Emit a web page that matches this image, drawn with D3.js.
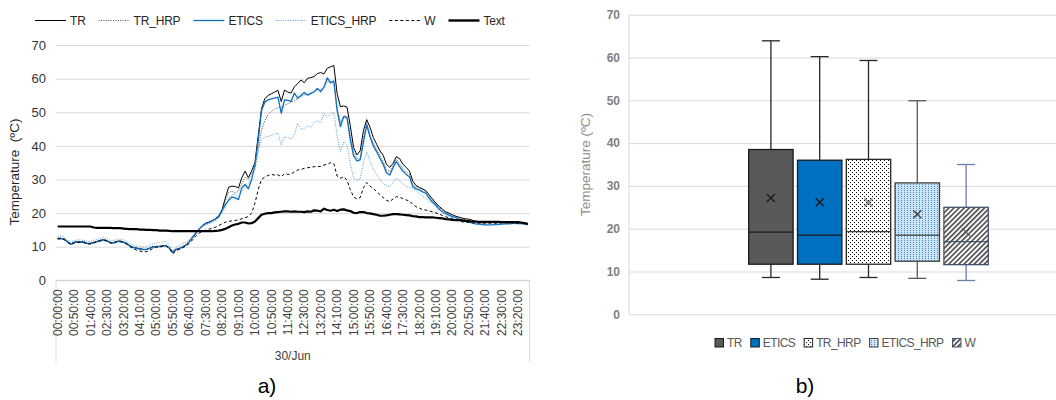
<!DOCTYPE html>
<html>
<head>
<meta charset="utf-8">
<script src="https://cdn.jsdelivr.net/npm/d3@7"></script>
<style>
  body { margin: 0; background: #fff; }
  svg { display: block; font-family: "Liberation Sans", Arial, sans-serif; }
</style>
</head>
<body>
<svg id="chart" width="1056" height="400"></svg>
<script>
// ---- time axis: one reading every 10 minutes over the day ----
const times = d3.range(144).map(i => {
  const m = i * 10;
  return String(Math.floor(m / 60)).padStart(2, "0") + ":" + String(m % 60).padStart(2, "0") + ":00";
});
const timeLabelStep = 5;
const dayLabel = "30/Jun";
const yTicks = [0, 10, 20, 30, 40, 50, 60, 70];

// ---- surface temperatures (ºC) ----
const TR = [
  12.5,12.5,12.3,11.5,10.8,11.3,11.5,11.5,11.4,11.0,11.0,11.3,11.6,11.9,12.1,11.8,11.3,11.2,11.6,11.7,
  11.4,11.0,10.3,9.8,9.6,9.4,9.2,9.2,9.6,10.0,10.1,10.1,10.3,10.4,9.6,8.6,9.2,9.5,10.0,10.5,11.5,
  12.8,14.0,15.3,16.3,17.0,17.3,17.8,18.2,18.8,21.0,
  24.5,27.7,28.0,27.9,27.5,30.5,32.5,30.5,32.5,35.0,
  43.0,51.0,54.0,55.0,55.5,56.0,56.5,53.2,56.6,56.0,
  55.7,57.6,58.5,59.6,58.8,60.1,60.3,60.6,61.5,61.8,
  61.4,63.1,63.5,63.9,55.5,51.6,51.9,51.5,46.0,39.5,
  37.3,38.5,44.5,47.8,45.5,42.5,40.5,38.5,37.2,34.5,
  33.6,34.8,36.8,36.2,34.5,33.6,32.5,29.5,28.2,27.6,
  27.2,26.6,25.4,24.2,23.0,22.0,21.2,20.4,20.0,19.5,
  19.1,18.8,18.5,18.3,18.2,17.9,17.6,17.4,17.3,17.3,
  17.4,17.3,17.4,17.5,17.5,17.4,17.5,17.4,17.3,17.2,
  17.1,16.9,16.7
];
const TR_HRP = [
  12.5,12.5,12.3,11.5,10.8,11.3,11.5,11.5,11.4,11.0,11.0,11.3,11.6,11.9,12.1,11.8,11.3,11.2,11.6,11.7,
  11.4,11.0,10.3,9.8,9.6,9.4,9.2,9.2,9.6,10.0,10.1,10.1,10.3,10.4,9.6,8.6,9.2,9.5,10.0,10.5,11.5,
  12.5,13.8,15.0,16.0,16.8,17.2,17.6,18.0,18.6,20.5,
  23.5,26.2,26.5,26.0,26.5,28.7,30.7,30.0,31.7,33.2,
  38.6,44.6,47.5,49.3,50.2,51.0,51.3,51.5,52.0,52.5,
  53.0,53.5,54.0,54.6,55.2,55.2,55.6,56.0,56.8,56.5,
  57.3,59.3,58.6,59.0,51.0,47.0,49.0,48.8,43.0,38.0,
  36.3,36.0,42.8,46.8,43.3,40.7,39.0,37.0,35.4,33.0,
  32.3,34.3,36.0,34.7,33.3,32.3,31.5,28.5,27.8,27.4,
  26.9,26.3,25.0,23.8,22.9,21.7,20.9,20.3,19.8,19.4,
  19.0,18.6,18.3,18.0,17.8,17.5,17.3,17.2,17.1,17.1,
  17.1,17.2,17.2,17.3,17.3,17.3,17.3,17.3,17.2,17.1,
  17.0,16.9,16.7
];
const ETICS = [
  12.4,12.4,12.2,11.4,10.7,11.2,11.4,11.4,11.3,10.9,10.9,11.2,11.5,11.8,12.0,11.7,11.2,11.1,11.5,11.6,
  11.3,10.9,10.2,9.7,9.5,9.3,9.1,9.1,9.5,9.9,10.0,10.0,10.2,10.3,9.5,8.2,9.1,9.4,9.9,10.4,11.4,
  12.7,14.0,15.2,16.2,16.8,17.2,17.7,18.3,19.2,20.8,
  22.5,23.8,24.8,24.5,24.0,27.5,28.5,27.2,30.0,34.2,
  41.6,50.5,53.0,53.7,54.0,54.2,54.5,49.7,53.7,53.5,
  53.2,55.7,54.2,55.0,55.9,55.1,55.6,56.1,57.1,56.1,
  57.5,60.2,58.8,59.3,50.5,45.7,48.7,48.3,41.8,37.0,
  35.5,35.8,41.0,46.2,42.7,40.0,38.3,36.3,34.5,32.0,
  31.3,33.5,35.3,33.8,32.5,31.5,30.8,27.9,27.2,26.9,
  26.3,25.9,24.4,23.3,22.4,21.2,20.4,19.9,19.4,19.0,
  18.7,18.2,17.9,17.6,17.4,17.1,16.8,16.7,16.6,16.5,
  16.5,16.5,16.6,16.6,16.7,16.8,16.8,16.9,17.0,16.9,
  16.9,16.8,16.6
];
const ETICS_HRP = [
  13.0,13.2,13.0,12.0,11.4,11.8,12.0,12.0,11.9,11.6,11.6,11.9,12.2,12.5,12.7,12.4,11.9,11.8,12.2,12.3,
  12.0,11.6,10.9,10.4,10.2,10.0,9.9,9.9,10.4,10.9,11.1,11.2,11.5,11.6,10.5,8.4,9.8,10.4,10.9,11.3,12.1,
  13.2,14.3,15.3,16.0,16.5,16.8,17.2,17.6,18.8,20.0,
  21.3,24.5,25.5,25.7,24.8,26.5,27.7,28.7,30.5,34.0,
  39.0,41.5,42.6,42.8,43.1,43.5,43.8,40.3,42.7,42.5,
  42.0,43.2,46.7,45.0,44.9,46.0,45.5,46.9,47.5,47.0,
  49.7,48.5,49.5,49.9,43.0,38.3,41.3,40.3,34.5,30.5,
  29.8,30.1,35.0,38.3,35.3,33.0,31.5,30.0,28.8,28.1,
  27.9,29.0,30.4,29.5,28.7,27.9,27.6,27.4,26.5,25.9,
  25.0,24.4,23.5,22.9,21.9,20.9,20.2,19.4,19.0,18.7,
  18.5,18.2,17.8,17.4,17.2,17.0,16.9,16.8,16.8,16.7,
  16.7,16.7,16.7,16.7,16.8,16.8,16.8,16.8,16.8,16.8,
  16.8,16.7,16.5
];
const W = [
  12.3,12.3,12.1,11.3,10.6,11.1,11.3,11.3,11.2,10.8,10.8,11.1,11.4,11.7,11.9,11.6,11.1,11.0,11.4,11.5,
  11.2,10.7,10.0,9.4,9.0,8.7,8.5,8.5,8.9,9.5,9.8,9.9,10.1,10.2,9.4,7.9,8.8,9.2,9.6,10.2,10.9,
  12.0,13.2,14.0,14.6,14.9,15.2,15.5,15.8,16.3,16.8,
  17.3,17.5,17.7,17.8,18.0,18.3,18.6,19.0,20.0,22.9,
  27.0,30.0,30.7,31.2,31.5,31.3,31.4,30.8,31.7,31.5,
  31.6,32.3,32.8,33.0,33.3,33.5,33.6,33.8,33.8,33.9,
  34.3,34.5,35.0,34.7,31.0,30.4,30.8,29.8,27.0,24.8,
  24.2,24.6,27.5,29.1,28.0,27.3,26.4,25.5,24.6,23.8,
  23.4,24.2,24.9,24.7,24.3,23.9,23.6,22.6,21.9,21.5,
  21.0,20.9,20.6,20.4,20.1,19.7,19.3,18.9,18.6,18.3,
  18.0,17.7,17.4,17.3,17.2,17.1,17.1,17.0,17.0,17.0,
  17.0,17.0,17.0,17.0,17.1,17.1,17.1,17.1,17.0,17.0,
  16.9,16.8,16.7
];
const Text = [
  16.0,16.0,16.0,16.0,16.0,16.0,16.0,16.0,16.0,16.0,16.0,
  15.7,15.6,15.6,15.6,15.6,15.6,15.5,15.5,15.5,15.4,
  15.3,15.2,15.2,15.2,15.1,15.1,15.0,15.0,14.9,14.9,
  14.8,14.8,14.8,14.7,14.6,14.6,14.6,14.6,14.6,14.6,
  14.6,14.6,14.6,14.6,14.6,14.6,14.6,14.7,14.8,15.0,
  15.3,15.8,16.3,16.6,16.8,17.2,17.2,16.9,17.0,17.5,
  18.5,19.5,19.8,20.0,20.0,20.2,20.3,20.4,20.5,20.5,
  20.4,20.5,20.4,20.4,20.3,20.5,20.4,20.8,20.7,20.5,
  21.3,20.9,20.7,21.0,20.6,21.0,21.1,20.8,20.6,20.1,
  20.0,20.3,20.3,20.0,19.9,19.7,19.5,19.2,19.2,19.3,
  19.5,19.7,19.7,19.6,19.5,19.4,19.3,19.1,19.0,18.8,
  18.8,18.7,18.7,18.7,18.6,18.5,18.4,18.2,18.1,18.0,
  17.9,17.9,17.8,17.7,17.6,17.5,17.5,17.4,17.4,17.4,
  17.4,17.4,17.4,17.4,17.3,17.3,17.3,17.3,17.3,17.3,
  17.2,17.0,16.8
];

// ---- daily statistics per solution (ºC) ----
const boxNames  = ["TR", "ETICS", "TR_HRP", "ETICS_HRP", "W"];
const boxMin    = [8.6, 8.2, 8.6, 8.4, 7.9];
const boxQ1     = [11.7, 11.7, 11.7, 12.4, 11.6];
const boxMedian = [19.2, 18.5, 19.3, 18.5, 17.0];
const boxQ3     = [38.5, 36.0, 36.2, 30.7, 25.0];
const boxMax    = [63.9, 60.2, 59.3, 49.9, 35.0];
const boxMean   = [27.2, 26.2, 26.1, 23.4, 19.2];

const svg = d3.select("#chart");
svg.append("rect").attr("width", 1056).attr("height", 400).attr("fill", "#fff");

// ---- fill patterns ----
const defs = svg.append("defs");
const pDots = defs.append("pattern").attr("id", "pDots").attr("patternUnits", "userSpaceOnUse")
  .attr("width", 4).attr("height", 4);
pDots.append("rect").attr("width", 4).attr("height", 4).attr("fill", "#fff");
pDots.append("rect").attr("x", 0).attr("y", 0).attr("width", 1).attr("height", 1).attr("fill", "#000");
pDots.append("rect").attr("x", 2).attr("y", 2).attr("width", 1).attr("height", 1).attr("fill", "#000");

const pBlue = defs.append("pattern").attr("id", "pBlue").attr("patternUnits", "userSpaceOnUse")
  .attr("width", 3).attr("height", 2);
pBlue.append("rect").attr("width", 3).attr("height", 2).attr("fill", "#cfe4f7");
pBlue.append("rect").attr("x", 1).attr("y", 0).attr("width", 1).attr("height", 1).attr("fill", "#3a8ad6");

const pHatch = defs.append("pattern").attr("id", "pHatch").attr("patternUnits", "userSpaceOnUse")
  .attr("width", 3.6).attr("height", 3.6).attr("patternTransform", "rotate(45)");
pHatch.append("rect").attr("width", 3.6).attr("height", 3.6).attr("fill", "#fff");
pHatch.append("line").attr("x1", 0.8).attr("x2", 0.8).attr("y1", 0).attr("y2", 3.6)
  .attr("stroke", "#3a3a3a").attr("stroke-width", 1.5);

// =============== a) time series ===============
const left = { x0: 56, x1: 529.5, y0: 280.3, y1: 45 };
const xL = d3.scaleBand().domain(times).range([left.x0, left.x1]);
const yL = d3.scaleLinear().domain([0, 70]).range([left.y0, left.y1]);
const gA = svg.append("g");

const yAxisL = gA.append("g").attr("transform", `translate(${left.x0},0)`)
  .call(d3.axisLeft(yL).tickValues(yTicks).tickSize(-(left.x1 - left.x0)).tickPadding(10));
yAxisL.select(".domain").remove();
yAxisL.selectAll(".tick line").attr("stroke", "#d9d9d9").attr("stroke-width", 1);
yAxisL.selectAll(".tick text").attr("font-size", 13).attr("fill", "#333333")
  .attr("font-family", "Liberation Sans, Arial, sans-serif");

// category axis with the day group underneath
gA.append("line").attr("x1", left.x0).attr("x2", left.x1).attr("y1", yL(0)).attr("y2", yL(0))
  .attr("stroke", "#d0d0d0");
[left.x0, left.x1].forEach(x => {
  gA.append("line").attr("x1", x).attr("x2", x).attr("y1", yL(0)).attr("y2", 362)
    .attr("stroke", "#d9d9d9");
});
const xAxisL = gA.append("g").attr("transform", `translate(0,${yL(0)})`)
  .call(d3.axisBottom(xL).tickValues(times.filter((d, i) => i % timeLabelStep === 0)).tickSize(0));
xAxisL.select(".domain").remove();
xAxisL.selectAll(".tick text")
  .attr("font-size", 12).attr("fill", "#404040")
  .attr("font-family", "Liberation Sans, Arial, sans-serif")
  .attr("text-anchor", "end")
  .attr("transform", "rotate(-90)")
  .attr("x", -9).attr("y", 0).attr("dy", "0.35em");
gA.append("text").attr("x", (left.x0 + left.x1) / 2).attr("y", 360)
  .attr("text-anchor", "middle").attr("font-size", 12).attr("fill", "#404040").text(dayLabel);

gA.append("text").attr("transform", "translate(19,172) rotate(-90)")
  .attr("text-anchor", "middle").attr("font-size", 13.5).attr("fill", "#262626")
  .attr("xml:space", "preserve").text("Temperature  (ºC)");

const lineStyles = [
  { name: "TR",        values: TR,        color: "#000000", width: 1,   dash: null },
  { name: "TR_HRP",    values: TR_HRP,    color: "#4d4d4d", width: 1,   dash: "1,1.4" },
  { name: "ETICS",     values: ETICS,     color: "#0a6fc2", width: 1.3, dash: null },
  { name: "ETICS_HRP", values: ETICS_HRP, color: "#5b9bd5", width: 1,   dash: "1,1.4" },
  { name: "W",         values: W,         color: "#000000", width: 1,   dash: "3,2.5" },
  { name: "Text",      values: Text,      color: "#000000", width: 2.2, dash: null }
];
const line = d3.line()
  .x((d, i) => xL(times[i]) + xL.bandwidth() / 2)
  .y(d => yL(d));
lineStyles.forEach(s => {
  gA.append("path").datum(s.values).attr("d", line).attr("fill", "none")
    .attr("stroke", s.color).attr("stroke-width", s.width)
    .attr("stroke-dasharray", s.dash).attr("stroke-linejoin", "round");
});

// legend row
let lx = 35;
lineStyles.forEach(s => {
  gA.append("line").attr("x1", lx).attr("x2", lx + 31).attr("y1", 20.5).attr("y2", 20.5)
    .attr("stroke", s.color).attr("stroke-width", s.width === 2.2 ? 2.4 : s.width)
    .attr("stroke-dasharray", s.dash);
  const t = gA.append("text").attr("x", lx + 35).attr("y", 20.5).attr("dy", "0.35em")
    .attr("font-size", 12).attr("fill", "#262626").attr("letter-spacing", -0.2).text(s.name);
  lx = lx + 35 + t.node().getComputedTextLength() + 13;
});

gA.append("text").attr("x", 267).attr("y", 393).attr("text-anchor", "middle")
  .attr("font-size", 21).attr("fill", "#000").text("a)");

// =============== b) box plots ===============
const right = { x0: 629, x1: 1056, y0: 314.3, y1: 14.7 };
const yR = d3.scaleLinear().domain([0, 70]).range([right.y0, right.y1]);
const xR = d3.scaleBand().domain(boxNames).range([746.5, 990.5]).paddingInner(0.09).paddingOuter(0.045);
const gB = svg.append("g");

const yAxisR = gB.append("g").attr("transform", `translate(${right.x0},0)`)
  .call(d3.axisLeft(yR).tickValues(yTicks).tickSize(-(right.x1 - right.x0)).tickPadding(9));
yAxisR.select(".domain").attr("stroke", "#d9d9d9").attr("d", `M0,${right.y1}V${right.y0}`);
yAxisR.selectAll(".tick line").attr("stroke", "#d9d9d9");
yAxisR.selectAll(".tick text").attr("font-size", 12).attr("font-weight", "bold").attr("fill", "#7f7f7f")
  .attr("font-family", "Liberation Sans, Arial, sans-serif");

gB.append("text").attr("transform", `translate(590,${(right.y0 + right.y1) / 2}) rotate(-90)`)
  .attr("text-anchor", "middle").attr("font-size", 13.5).attr("fill", "#8c8c8c")
  .text("Temperature (ºC)");

const boxStyles = {
  TR:        { fill: "#595959",      stroke: "#1a1a1a", whisker: "#262626", median: "#1a1a1a", mean: "#1a1a1a" },
  ETICS:     { fill: "#0070c0",      stroke: "#1a1a1a", whisker: "#262626", median: "#1a1a1a", mean: "#1a1a1a" },
  TR_HRP:    { fill: "url(#pDots)",  stroke: "#262626", whisker: "#262626", median: "#404040", mean: "#7f7f7f" },
  ETICS_HRP: { fill: "url(#pBlue)",  stroke: "#404040", whisker: "#595959", median: "#404040", mean: "#404040" },
  W:         { fill: "url(#pHatch)", stroke: "#44546a", whisker: "#6a7ea8", median: "#44546a", mean: "#595959" }
};
const capHalf = 9;
boxNames.forEach((name, i) => {
  const st = boxStyles[name];
  const x0 = xR(name), bw = xR.bandwidth(), cx = x0 + bw / 2;
  const g = gB.append("g");
  // whiskers
  g.append("line").attr("x1", cx).attr("x2", cx).attr("y1", yR(boxMax[i])).attr("y2", yR(boxQ3[i]))
    .attr("stroke", st.whisker).attr("stroke-width", 1.3);
  g.append("line").attr("x1", cx).attr("x2", cx).attr("y1", yR(boxQ1[i])).attr("y2", yR(boxMin[i]))
    .attr("stroke", st.whisker).attr("stroke-width", 1.3);
  [boxMax[i], boxMin[i]].forEach(v => {
    g.append("line").attr("x1", cx - capHalf).attr("x2", cx + capHalf).attr("y1", yR(v)).attr("y2", yR(v))
      .attr("stroke", st.whisker).attr("stroke-width", 1.3);
  });
  // box
  g.append("rect").attr("x", x0).attr("y", yR(boxQ3[i])).attr("width", bw)
    .attr("height", yR(boxQ1[i]) - yR(boxQ3[i]))
    .attr("fill", st.fill).attr("stroke", st.stroke).attr("stroke-width", 1.3);
  g.append("line").attr("x1", x0).attr("x2", x0 + bw).attr("y1", yR(boxMedian[i])).attr("y2", yR(boxMedian[i]))
    .attr("stroke", st.median).attr("stroke-width", 1.3);
  // mean marker
  const my = yR(boxMean[i]), r = 4;
  g.append("path").attr("d", `M${cx - r},${my - r}L${cx + r},${my + r}M${cx - r},${my + r}L${cx + r},${my - r}`)
    .attr("stroke", st.mean).attr("stroke-width", 1.4);
});

// legend row
let bx = 715;
boxNames.forEach(name => {
  const st = boxStyles[name];
  gB.append("rect").attr("x", bx).attr("y", 338.5).attr("width", 8.5).attr("height", 8.5)
    .attr("fill", st.fill).attr("stroke", st.stroke).attr("stroke-width", 1);
  const t = gB.append("text").attr("x", bx + 12).attr("y", 343).attr("dy", "0.35em")
    .attr("font-size", 12).attr("fill", "#595959").attr("letter-spacing", -0.6).text(name);
  bx = bx + 12 + t.node().getComputedTextLength() + 9;
});

gB.append("text").attr("x", 805).attr("y", 393).attr("text-anchor", "middle")
  .attr("font-size", 21).attr("fill", "#000").text("b)");
</script>
</body>
</html>
